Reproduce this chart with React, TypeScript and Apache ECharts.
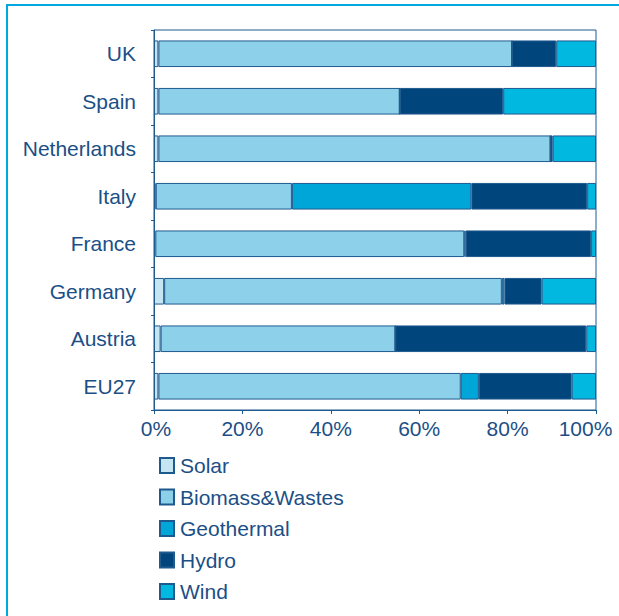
import React, { useEffect, useRef } from "react";
import * as echarts from "echarts";

const countries = ["EU27", "Austria", "Germany", "France", "Italy", "Netherlands", "Spain", "UK"];
const solar = [1.0, 1.5, 2.3, 0.3, 0.4, 1.0, 1.0, 1.0];
const biomass = [68.4, 53.1, 76.4, 69.9, 30.8, 88.7, 54.6, 80.0];
const geothermal = [4.1, 0, 0.6, 0.3, 40.6, 0, 0, 0];
const hydro = [21.0, 43.2, 8.4, 28.4, 26.2, 0.5, 23.4, 10.0];
const wind = [5.5, 2.2, 12.3, 1.1, 2.0, 9.8, 21.0, 9.0];
const xTicks = [0, 20, 40, 60, 80, 100];

const seriesNames = ["Solar", "Biomass&Wastes", "Geothermal", "Hydro", "Wind"];
const seriesColors = ["#c5e5f3", "#8dd0ea", "#00a6d8", "#00457c", "#00b8e0"];
const seriesData = [solar, biomass, geothermal, hydro, wind];

const TEXT = "#1b4f86";
const LINE = "#1f5a8f";
const FONT = "'Liberation Sans', Arial, Helvetica, sans-serif";
const FS = 21;

export default function App() {
  const ref = useRef<HTMLDivElement>(null);
  useEffect(() => {
    if (!ref.current) return;
    const chart = echarts.init(ref.current, null, { renderer: "svg" });
    const minTick = xTicks[0];
    const maxTick = xTicks[xTicks.length - 1];
    chart.setOption({
      animation: false,
      backgroundColor: "#ffffff",
      textStyle: { fontFamily: FONT },
      graphic: [
        {
          type: "rect",
          shape: { x: 7, y: 5, width: 700, height: 700 },
          style: { fill: "none", stroke: "#00a8e0", lineWidth: 2 },
          silent: true,
        },
      ],
      grid: {
        left: 154,
        right: 23,
        top: 30,
        bottom: 206,
        show: true,
        borderColor: LINE,
        borderWidth: 1,
        backgroundColor: "transparent",
        containLabel: false,
        outerBoundsMode: "none",
      },
      legend: {
        orient: "vertical",
        left: 154,
        top: 450,
        itemWidth: 14,
        itemHeight: 15,
        itemGap: 10.5,
        icon: "rect",
        data: seriesNames,
        textStyle: {
          fontFamily: FONT,
          fontSize: FS,
          color: TEXT,
          lineHeight: 20,
          padding: [0, 0, 0, 1],
        },
      },
      xAxis: {
        type: "value",
        min: minTick,
        max: maxTick,
        interval: 20,
        axisLine: { show: true, lineStyle: { color: LINE, width: 1 } },
        axisTick: { show: true, length: 4, lineStyle: { color: LINE } },
        splitLine: { show: false },
        axisLabel: {
          formatter: (v: number) =>
            v === maxTick
              ? `{last|${v}%}`
              : v === minTick
              ? `{first|${v}%}`
              : `{mid|${v}%}`,
          fontFamily: FONT,
          fontSize: FS,
          color: TEXT,
          margin: 8,
          rich: {
            last: { fontFamily: FONT, fontSize: FS, color: TEXT, padding: [0, 21, 0, 0] },
            first: { fontFamily: FONT, fontSize: FS, color: TEXT, padding: [0, 0, 0, 4] },
            mid: { fontFamily: FONT, fontSize: FS, color: TEXT },
          },
        },
      },
      yAxis: {
        type: "category",
        data: countries,
        axisLine: { show: true, lineStyle: { color: LINE, width: 1 } },
        axisTick: { show: true, length: 3, lineStyle: { color: LINE } },
        axisLabel: {
          fontFamily: FONT,
          fontSize: FS,
          color: TEXT,
          margin: 18,
        },
      },
      series: seriesNames.map((name, i) => ({
        name,
        type: "bar",
        stack: "total",
        barWidth: "56%",
        data: seriesData[i],
        itemStyle: {
          color: seriesColors[i],
          borderColor: LINE,
          borderWidth: 1,
        },
      })),
    });
    return () => chart.dispose();
  }, []);
  return (
    <div
      ref={ref}
      style={{ position: "fixed", left: 0, top: 0, width: 619, height: 616 }}
    />
  );
}
